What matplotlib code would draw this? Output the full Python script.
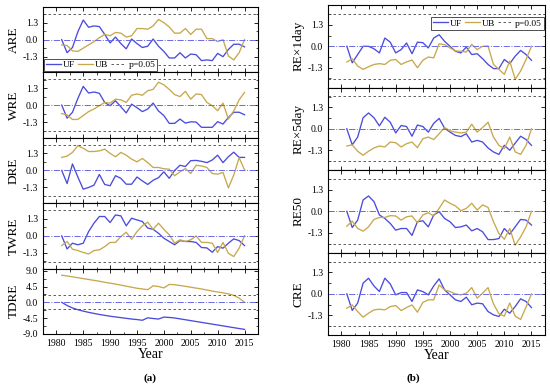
import matplotlib
matplotlib.use("Agg")
import matplotlib.pyplot as plt
import numpy as np
from matplotlib.ticker import MultipleLocator

plt.rcParams['font.family'] = ['Liberation Serif', 'DejaVu Serif']
plt.rcParams['mathtext.fontset'] = 'stix'

years = np.arange(1981, 2016)

# left column (a)
are_uf = [0, -1.0, -0.6, 0.6, 1.5, 0.95, 1.05, 1.0, 0.4, -0.25, 0.2, -0.3, -0.7, 0.05, -0.3, -0.6, -0.5, 0.05,
          -0.5, -0.9, -1.4, -1.4, -1.0, -1.4, -1.1, -1.15, -1.6, -1.55, -1.6, -1.05, -1.3, -0.75, -0.35, -0.35, -0.55]
are_ub = [-0.4, -0.45, -0.85, -0.9, -0.65, -0.4, -0.15, 0.15, 0.4, 0.3, 0.55, 0.5, 0.2, 0.3, 0.85, 0.85, 0.8, 1.05,
          1.55, 1.3, 0.97, 0.5, 0.5, 0.85, 0.4, 0.8, 0.8, 0.08, 0.08, -0.15, 0.0, -1.25, -1.55, -1.0, 0.0]
wre_uf = [0, -1.0, -0.55, 0.5, 1.43, 0.92, 1.0, 0.9, 0.2, -0.05, 0.33, -0.13, -0.6, 0.07, -0.2, -0.5, -0.3, 0.15,
          -0.45, -0.8, -1.4, -1.4, -1.07, -1.38, -1.28, -1.3, -1.7, -1.7, -1.7, -1.27, -1.45, -0.95, -0.55, -0.55, -0.74]
wre_ub = [-0.65, -0.75, -1.1, -1.1, -0.8, -0.5, -0.3, -0.05, 0.2, 0.15, 0.45, 0.4, 0.2, 0.75, 0.85, 0.75, 1.1, 1.2,
          1.75, 1.55, 1.2, 0.8, 0.65, 1.05, 0.45, 0.85, 0.8, 0.2, -0.05, -0.43, 0.15, -1.07, -0.45, 0.4, 0.97]
dre_uf = [0, -1.0, 0.5, -0.5, -1.43, -1.3, -1.12, -0.3, -1.07, -1.17, -0.4, -0.6, -1.05, -1.05, -0.5, -0.8, -1.07, -0.75,
          -0.55, -0.1, -0.6, 0.0, 0.4, 0.3, 0.75, 0.77, 0.7, 0.6, 0.8, 1.17, 0.6, 1.05, 1.4, 1.0, 1.0]
dre_ub = [1.0, 1.1, 1.38, 1.9, 1.7, 1.45, 1.45, 1.5, 1.63, 1.3, 1.05, 1.38, 1.17, 0.87, 0.66, 0.92, 0.6, 0.23,
          0.23, 0.13, 0.1, -0.4, -0.1, 0.15, -0.23, 0.4, 0.35, 0.23, -0.23, -0.28, -0.15, -1.33, -0.35, 0.97, 0.05]
twre_uf = [0, -1.0, -0.56, -0.68, -0.56, 0.33, 0.97, 1.48, 1.48, 1.02, 1.6, 1.53, 0.77, 1.35, 1.22, 1.1, 0.6, 0.5,
           0.2, -0.18, -0.43, -0.68, -0.36, -0.43, -0.43, -0.5, -0.89, -0.92, -1.25, -0.82, -0.94, -0.56, -0.23, -0.36, -0.74]
twre_ub = [-0.74, -0.43, -1.02, -1.12, -1.27, -1.38, -1.12, -1.07, -0.82, -0.5, -0.5, -0.05, 0.28, -0.26, 0.33, 0.77, 1.05, 0.5,
           0.97, 0.5, 0.08, -0.56, -0.3, -0.43, -0.3, 0.0, -0.5, -0.5, -0.56, -1.27, -0.5, -1.33, -1.58, -0.94, 0.0]
tdre_uf = [0, -0.9, -1.6, -2.1, -2.5, -2.85, -3.15, -3.45, -3.7, -3.95, -4.15, -4.35, -4.55, -4.75, -4.9, -5.1, -4.4, -4.6,
           -4.75, -4.2, -4.3, -4.45, -4.7, -4.95, -5.2, -5.45, -5.7, -5.95, -6.2, -6.45, -6.7, -6.95, -7.2, -7.45, -7.7]
tdre_ub = [7.7, 7.5, 7.25, 7.0, 6.75, 6.5, 6.25, 6.0, 5.7, 5.45, 5.2, 4.9, 4.6, 4.3, 4.0, 3.8, 3.6, 4.7,
           4.5, 4.1, 5.1, 5.0, 4.8, 4.55, 4.3, 4.05, 3.8, 3.5, 3.2, 2.95, 2.7, 2.4, 2.0, 1.2, 0.0]

# right column (b)
re1_uf = [0, -1.0, -0.5, 0.0, 0.0, -0.15, -0.4, 0.5, 0.25, -0.4, -0.2, 0.2, -0.45, 0.25, 0.22, -0.1, 0.5, 0.7,
          0.3, 0.0, -0.3, -0.4, -0.05, -0.5, -0.45, -0.75, -1.1, -1.35, -1.35, -0.8, -1.05, -0.6, -0.25, -0.5, -0.85]
re1_ub = [-0.95, -0.75, -1.2, -1.4, -1.24, -1.1, -1.05, -1.1, -0.85, -0.8, -1.1, -0.95, -0.83, -1.3, -0.85, -0.65, -0.7, 0.15,
          0.1, -0.1, -0.28, -0.3, -0.35, 0.12, -0.2, 0.0, 0.02, -1.1, -1.4, -1.7, -0.9, -2.0, -1.5, -0.8, 0.0]
re5_uf = [0, -0.97, -0.5, 0.67, 0.96, 0.67, 0.18, 0.7, 0.4, -0.25, 0.2, 0.14, -0.45, 0.23, 0.14, -0.2, 0.33, 0.63,
          0.04, -0.2, -0.4, -0.47, -0.3, -0.8, -0.7, -0.8, -1.16, -1.4, -1.55, -1.0, -1.3, -0.87, -0.45, -0.65, -1.0]
re5_ub = [-1.04, -0.97, -1.36, -1.6, -1.36, -1.16, -1.04, -1.1, -0.8, -0.84, -1.1, -0.9, -0.8, -1.14, -0.6, -0.5, -0.65, -0.3,
          0.08, -0.12, -0.2, -0.25, -0.2, 0.28, -0.2, 0.08, 0.4, -0.5, -1.0, -1.2, -0.5, -1.4, -1.55, -1.0, 0.0]
re50_uf = [0, -0.98, -0.53, 0.69, 0.93, 0.59, -0.22, -0.43, -0.73, -1.14, -1.04, -1.04, -1.46, -0.63, -0.57, -0.94, -0.22, -0.02,
           -0.43, -0.63, -0.98, -0.94, -0.83, -1.18, -1.04, -1.24, -1.71, -1.71, -1.65, -1.04, -1.38, -0.94, -0.49, -0.53, -0.83]
re50_ub = [-0.9, -0.59, -1.04, -1.2, -0.94, -0.49, -0.37, -0.37, -0.26, -0.28, -0.53, -0.33, -0.28, -0.69, -0.22, -0.08, -0.28, 0.18,
           0.69, 0.49, 0.33, 0.04, 0.18, 0.49, 0.08, 0.39, 0.24, -0.63, -1.34, -1.69, -1.04, -2.05, -1.55, -0.94, 0.0]
cre_uf = [0, -1.0, -0.56, 0.65, 0.95, 0.48, 0.14, 0.95, 0.6, -0.06, 0.08, 0.08, -0.46, 0.24, 0.14, -0.06, 0.48, 0.91,
          0.24, -0.06, -0.36, -0.46, -0.2, -0.66, -0.56, -0.6, -1.07, -1.27, -1.37, -0.93, -1.17, -0.77, -0.3, -0.46, -0.83]
cre_ub = [-0.87, -0.67, -1.07, -1.41, -1.17, -0.97, -0.93, -0.97, -0.77, -0.71, -1.01, -0.83, -0.67, -1.11, -0.52, -0.36, -0.36, 0.54,
          0.24, 0.14, 0.0, -0.06, 0.04, 0.38, -0.26, 0.04, 0.38, -0.6, -1.2, -1.35, -0.55, -1.35, -1.55, -0.8, 0.0]

left_names = ['ARE', 'WRE', 'DRE', 'TWRE', 'TDRE']
left_uf = [are_uf, wre_uf, dre_uf, twre_uf, tdre_uf]
left_ub = [are_ub, wre_ub, dre_ub, twre_ub, tdre_ub]
right_names = ['RE×1day', 'RE×5day', 'RE50', 'CRE']
right_uf = [re1_uf, re5_uf, re50_uf, cre_uf]
right_ub = [re1_ub, re5_ub, re50_ub, cre_ub]

uf_color = '#4B4BDC'
ub_color = '#C8A84C'
crit = 1.96

fig = plt.figure(figsize=(5.5, 3.87), dpi=100)
gs_l = fig.add_gridspec(5, 1, left=0.078, right=0.469, top=0.982, bottom=0.137, hspace=0)
gs_r = fig.add_gridspec(4, 1, left=0.596, right=0.991, top=0.987, bottom=0.134, hspace=0)


def panel(ax, name, uf, ub, big=False):
    ax.plot(years, uf, color=uf_color, lw=0.95, label='UF')
    ax.plot(years, ub, color=ub_color, lw=0.95, label='UB')
    ax.axhline(crit, color='#444444', ls=(0, (3, 3)), lw=0.6, label='p=0.05')
    ax.axhline(-crit, color='#444444', ls=(0, (3, 3)), lw=0.6)
    ax.axhline(0, color='#6A6AE6', ls='-.', lw=0.7)
    ax.set_xlim(1977.5, 2017.5)
    if big:
        ax.set_ylim(-9, 9.6)
        ax.set_yticks([-9, -4.5, 0, 4.5, 9])
        ax.yaxis.set_minor_locator(MultipleLocator(2.25))
    else:
        ax.set_ylim(-2.5, 2.5)
        ax.set_yticks([-1.3, 0, 1.3])
        ax.yaxis.set_minor_locator(MultipleLocator(0.65))
    ax.yaxis.set_major_formatter(matplotlib.ticker.FormatStrFormatter('%.1f'))
    ax.xaxis.set_major_locator(MultipleLocator(5))
    ax.xaxis.set_minor_locator(MultipleLocator(2.5))
    ax.tick_params(which='both', direction='in', top=True, right=True, labelsize=7)
    ax.tick_params(which='major', length=3, width=0.6)
    ax.tick_params(which='minor', length=1.8, width=0.5)
    ax.set_ylabel(name, fontsize=9.5, labelpad=2)
    for s in ax.spines.values():
        s.set_linewidth(0.8)


left_axes = []
for k, name in enumerate(left_names):
    ax = fig.add_subplot(gs_l[k])
    panel(ax, name, left_uf[k], left_ub[k], big=(name == 'TDRE'))
    if k < 4:
        ax.tick_params(labelbottom=False)
    left_axes.append(ax)

right_axes = []
for k, name in enumerate(right_names):
    ax = fig.add_subplot(gs_r[k])
    panel(ax, name, right_uf[k], right_ub[k])
    if k < 3:
        ax.tick_params(labelbottom=False)
    right_axes.append(ax)

leg_kw = dict(ncol=3, fontsize=6.8, handlelength=1.6, handletextpad=0.2, columnspacing=0.3,
              borderpad=0.2, borderaxespad=0.15, fancybox=False, edgecolor='#333333', framealpha=1)
lg = left_axes[0].legend(loc='lower left', **leg_kw)
lg.get_frame().set_linewidth(0.6)
lg = right_axes[0].legend(loc='upper right', bbox_to_anchor=(1.0, 0.87), **leg_kw)
lg.get_frame().set_linewidth(0.6)

left_axes[-1].set_xlabel('Year', fontsize=10, labelpad=0)
right_axes[-1].set_xlabel('Year', fontsize=10, labelpad=0)

fig.text(0.273, 0.01, '(a)', fontsize=8, fontweight='bold', ha='center', va='bottom')
fig.text(0.751, 0.01, '(b)', fontsize=8, fontweight='bold', ha='center', va='bottom')

fig.savefig('out.png', dpi=100)
